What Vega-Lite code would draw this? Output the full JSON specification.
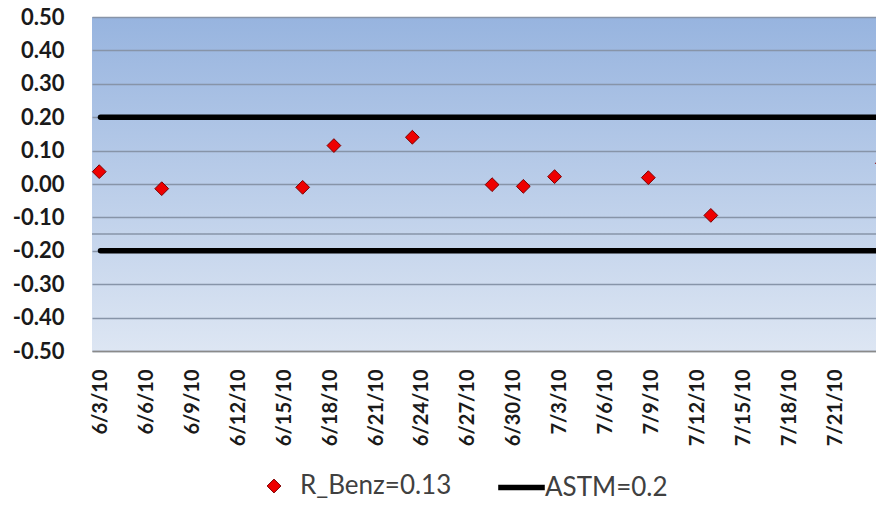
{
  "$schema": "https://vega.github.io/schema/vega-lite/v6.json",
  "autosize": {"type": "none"},
  "padding": {"left": 92, "top": 17, "right": 0, "bottom": 154},
  "width": 784,
  "height": 334,
  "background": "white",
  "config": {
    "font": "Lato",
    "view": {
      "stroke": null,
      "fill": {"gradient": "linear", "x1": 0, "y1": 0, "x2": 0, "y2": 1,
        "stops": [{"offset": 0, "color": "#97b4df"}, {"offset": 1, "color": "#dde6f3"}]}
    },
    "legend": {"padding": 0}
  },
  "datasets": {
    "points": [
      {"date": "2010-06-02T22:00", "value": 0.037, "series": "R_Benz=0.13"},
      {"date": "2010-06-07T00:00", "value": -0.014, "series": "R_Benz=0.13"},
      {"date": "2010-06-16T05:00", "value": -0.01, "series": "R_Benz=0.13"},
      {"date": "2010-06-18T06:00", "value": 0.115, "series": "R_Benz=0.13"},
      {"date": "2010-06-23T09:00", "value": 0.14, "series": "R_Benz=0.13"},
      {"date": "2010-06-28T14:00", "value": -0.002, "series": "R_Benz=0.13"},
      {"date": "2010-06-30T15:00", "value": -0.007, "series": "R_Benz=0.13"},
      {"date": "2010-07-02T16:00", "value": 0.022, "series": "R_Benz=0.13"},
      {"date": "2010-07-08T19:00", "value": 0.019, "series": "R_Benz=0.13"},
      {"date": "2010-07-12T21:00", "value": -0.094, "series": "R_Benz=0.13"},
      {"date": "2010-07-24T02:00", "value": 0.062, "series": "R_Benz=0.13"}
    ],
    "astm": [
      {"date": "2010-06-03T00:00", "value": 0.2, "limit": "upper", "series": "ASTM=0.2"},
      {"date": "2010-07-25T00:00", "value": 0.2, "limit": "upper", "series": "ASTM=0.2"},
      {"date": "2010-06-03T00:00", "value": -0.2, "limit": "lower", "series": "ASTM=0.2"},
      {"date": "2010-07-25T00:00", "value": -0.2, "limit": "lower", "series": "ASTM=0.2"}
    ],
    "extragrid": [
      {"date": "2010-06-01T00:00", "value": -0.15},
      {"date": "2010-07-25T00:00", "value": -0.15}
    ]
  },
  "encoding": {
    "x": {"field": "date", "type": "temporal",
      "scale": {"domain": [{"year": 2010, "month": 6, "date": 2, "hours": 10, "minutes": 40}, {"year": 2010, "month": 7, "date": 23, "hours": 16}], "nice": false},
      "axis": {"title": null, "format": "%-m/%-d/%y", "labelAngle": -90, "labelFlush": false, "labelOverlap": false,
        "values": [
          {"year": 2010, "month": 6, "date": 3}, {"year": 2010, "month": 6, "date": 6}, {"year": 2010, "month": 6, "date": 9},
          {"year": 2010, "month": 6, "date": 12}, {"year": 2010, "month": 6, "date": 15}, {"year": 2010, "month": 6, "date": 18},
          {"year": 2010, "month": 6, "date": 21}, {"year": 2010, "month": 6, "date": 24}, {"year": 2010, "month": 6, "date": 27},
          {"year": 2010, "month": 6, "date": 30}, {"year": 2010, "month": 7, "date": 3}, {"year": 2010, "month": 7, "date": 6},
          {"year": 2010, "month": 7, "date": 9}, {"year": 2010, "month": 7, "date": 12}, {"year": 2010, "month": 7, "date": 15},
          {"year": 2010, "month": 7, "date": 18}, {"year": 2010, "month": 7, "date": 21}
        ],
        "grid": false, "ticks": false, "domain": true, "domainColor": "#8a8a8a", "domainWidth": 1.5,
        "labelFont": "Lato", "labelFontSize": 20, "labelFontWeight": "bold", "labelColor": "#1a1a1a", "labelPadding": 18}},
    "y": {"field": "value", "type": "quantitative",
      "scale": {"domain": [-0.5, 0.5], "nice": false, "zero": false},
      "axis": {"title": null, "values": [-0.5, -0.4, -0.3, -0.2, -0.1, 0, 0.1, 0.2, 0.3, 0.4, 0.5],
        "labelExpr": "replace(format(datum.value, '.2f'), '\u2212', '-')", "labelOverlap": false, "labelFlush": false,
        "domain": false, "ticks": false, "grid": true, "gridColor": "#8794a8", "gridWidth": 1.5,
        "labelFont": "Lato", "labelFontSize": 22, "labelFontWeight": "bold", "labelColor": "#1a1a1a", "labelPadding": 28}}
  },
  "layer": [
    {
      "data": {"name": "extragrid"},
      "mark": {"type": "line", "color": "#8794a8", "strokeWidth": 1.5, "clip": true}
    },
    {
      "data": {"name": "astm"},
      "mark": {"type": "line", "strokeWidth": 5.5, "strokeCap": "round"},
      "encoding": {
        "detail": {"field": "limit"},
        "stroke": {"field": "series", "type": "nominal",
          "scale": {"domain": ["ASTM=0.2"], "range": ["#000000"]},
          "legend": {"title": null, "orient": "none", "legendX": 403, "legendY": 444,
            "symbolType": "stroke", "symbolSize": 2170, "symbolStrokeWidth": 5.5,
            "labelFont": "Lato", "labelFontSize": 26, "labelColor": "#404040", "labelOffset": -3}}
      }
    },
    {
      "data": {"name": "points"},
      "mark": {"type": "point", "shape": "diamond", "filled": true, "size": 190, "stroke": "#7a0000", "strokeWidth": 1, "opacity": 1},
      "encoding": {
        "fill": {"field": "series", "type": "nominal",
          "scale": {"domain": ["R_Benz=0.13"], "range": ["#ee0000"]},
          "legend": {"title": null, "orient": "none", "legendX": 169, "legendY": 456,
            "symbolType": "diamond", "symbolSize": 190, "symbolStrokeColor": "#7a0000", "symbolStrokeWidth": 1,
            "labelFont": "Lato", "labelFontSize": 26, "labelColor": "#404040", "labelOffset": 13}}
      }
    }
  ]
}
